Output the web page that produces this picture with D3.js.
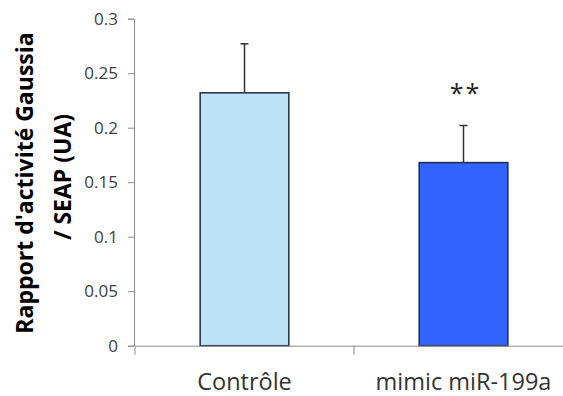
<!DOCTYPE html>
<html>
<head>
<meta charset="utf-8">
<script src="https://cdn.jsdelivr.net/npm/d3@7"></script>
<style>
  body { margin: 0; background: #fff; }
  svg { display: block; }
</style>
</head>
<body>
<div id="chart"></div>
<script>
// Data
const categories = ['Contrôle', 'mimic miR-199a'];
const means = [0.232, 0.168];
const errors = [0.045, 0.034];
const colors = ['#bde2f5', '#3363fd'];
const stars = ['', '**'];
const yTicks = [0, 0.05, 0.1, 0.15, 0.2, 0.25, 0.3];

const W = 563, H = 396;
const margin = {top: 18.7, left: 135, bottom: 50.3};

const svg = d3.select('#chart').append('svg')
  .attr('width', W)
  .attr('height', H);

// band per category, axis runs off the right edge like the original
const x = d3.scaleBand().domain(categories).range([margin.left, margin.left + 438]);
const y = d3.scaleLinear().domain([0, 0.3]).range([H - margin.bottom, margin.top]);

const barW = x.bandwidth() * 0.405;

// Y axis
const yaxis = d3.axisLeft(y).tickValues(yTicks).tickSize(6).tickPadding(10)
  .tickFormat(d => d3.format('')(+d.toFixed(2)));
const gy = svg.append('g').attr('transform', `translate(${margin.left - 1},0)`).call(yaxis);
gy.select('.domain').attr('stroke', '#8c8c8c');
gy.selectAll('.tick line').attr('stroke', '#8c8c8c');
gy.selectAll('.tick text')
  .attr('fill', '#404040')
  .style('font-family', '"Open Sans", sans-serif')
  .style('font-size', '17px');

// Bars
svg.append('g').selectAll('rect')
  .data(categories)
  .enter().append('rect')
  .attr('x', d => x(d) + (x.bandwidth() - barW) / 2)
  .attr('y', (d, i) => y(means[i]))
  .attr('width', barW)
  .attr('height', (d, i) => y(0) - y(means[i]))
  .attr('fill', (d, i) => colors[i])
  .attr('stroke', '#1f2c4c')
  .attr('stroke-width', 1.5);

// Error bars (upper only)
const eb = svg.append('g').attr('stroke', '#333').attr('stroke-width', 1.5);
categories.forEach((c, i) => {
  const cx = x(c) + x.bandwidth() / 2;
  eb.append('line')
    .attr('x1', cx).attr('x2', cx)
    .attr('y1', y(means[i])).attr('y2', y(means[i] + errors[i]));
  eb.append('line')
    .attr('x1', cx - 4).attr('x2', cx + 4)
    .attr('y1', y(means[i] + errors[i])).attr('y2', y(means[i] + errors[i]));
});

// Significance stars
svg.append('g').selectAll('text')
  .data(categories)
  .enter().append('text')
  .attr('x', d => x(d) + x.bandwidth() / 2 + 2)
  .attr('y', 102)
  .attr('text-anchor', 'middle')
  .attr('fill', '#222')
  .style('font-family', '"Open Sans", sans-serif')
  .style('font-size', '25px')
  .style('letter-spacing', '2px')
  .text((d, i) => stars[i]);

// X axis
const xaxis = d3.axisBottom(x).tickSize(0).tickFormat('');
const gx = svg.append('g').attr('transform', `translate(0,${y(0)})`).call(xaxis);
gx.select('.domain').attr('stroke', '#8c8c8c');
// boundary ticks between categories
gx.selectAll('line.sep')
  .data([x.range()[0], x(categories[1])])
  .enter().append('line')
  .attr('class', 'sep')
  .attr('x1', d => d).attr('x2', d => d)
  .attr('y1', 0).attr('y2', 9)
  .attr('stroke', '#8c8c8c');

// Category labels
svg.append('g').selectAll('text')
  .data(categories)
  .enter().append('text')
  .attr('x', d => x(d) + x.bandwidth() / 2)
  .attr('y', 390)
  .attr('text-anchor', 'middle')
  .attr('fill', '#333')
  .style('font-family', '"Open Sans", sans-serif')
  .style('font-size', '23.5px')
  .text(d => d);

// Y axis title, two lines
const title = svg.append('text')
  .attr('transform', 'translate(0,183) rotate(-90)')
  .attr('text-anchor', 'middle')
  .attr('fill', '#000')
  .style('font-family', '"Open Sans", sans-serif')
  .style('font-weight', 'bold')
  .style('font-size', '23px');
title.append('tspan').attr('x', 0).attr('y', 33).text("Rapport d'activité Gaussia");
title.append('tspan').attr('x', 0).attr('y', 71).attr('dx', 6).text('/ SEAP (UA)');
</script>
</body>
</html>
